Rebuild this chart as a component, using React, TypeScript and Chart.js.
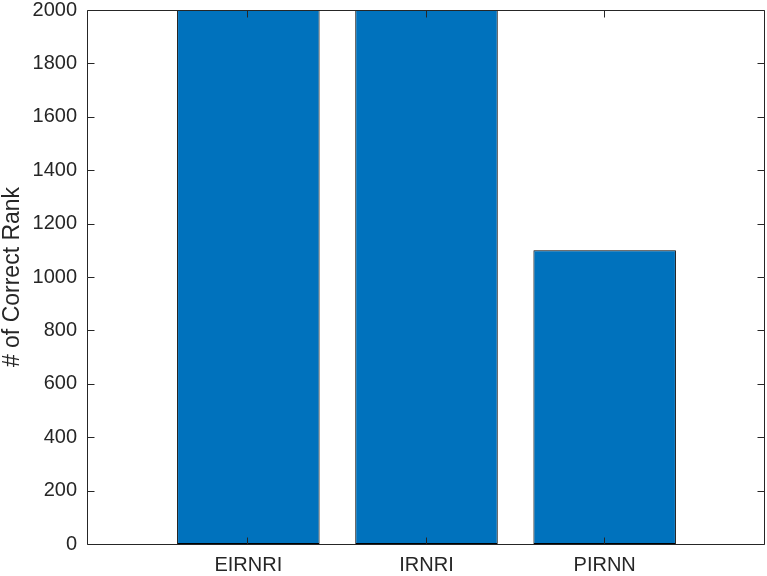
import React, { useEffect, useRef } from 'react';
import { Chart, registerables } from 'chart.js';

Chart.register(...registerables);

const categories = ['EIRNRI', 'IRNRI', 'PIRNN'];
const values = [2000, 2000, 1100];
const yTickValues = [0, 200, 400, 600, 800, 1000, 1200, 1400, 1600, 1800, 2000];
const yTitle = '# of Correct Rank';

const FONT = "'Liberation Sans', Arial, Helvetica, sans-serif";
const TEXT = '#262626';

const boxPlugin = {
  id: 'matlabBox',
  afterDatasetsDraw(chart: any) {
    const { ctx, chartArea: a, scales } = chart;
    const L = a.left - 0.5;
    const R = a.right - 0.5;
    const T = a.top + 0.5;
    const B = a.bottom + 0.5;
    const tl = 7;
    ctx.save();
    ctx.strokeStyle = TEXT;
    ctx.lineWidth = 1;
    ctx.beginPath();
    ctx.rect(L, T, R - L, B - T);
    yTickValues.forEach((v) => {
      const y = Math.round(scales.y.getPixelForValue(v)) + 0.5;
      ctx.moveTo(L, y);
      ctx.lineTo(L + tl, y);
      ctx.moveTo(R, y);
      ctx.lineTo(R - tl, y);
    });
    categories.forEach((_, i) => {
      const x = Math.round(scales.x.getPixelForValue(i + 1)) - 0.5;
      ctx.moveTo(x, B);
      ctx.lineTo(x, B - tl);
      ctx.moveTo(x, T);
      ctx.lineTo(x, T + tl);
    });
    ctx.stroke();
    ctx.restore();
  },
};

export default function App() {
  const ref = useRef<HTMLCanvasElement>(null);

  useEffect(() => {
    document.body.style.margin = '0';
    if (!ref.current) return;
    const chart = new Chart(ref.current, {
      type: 'bar',
      data: {
        datasets: [
          {
            data: values.map((v, i) => ({ x: i + 1, y: v })),
            backgroundColor: '#0072BD',
            borderColor: '#000000',
            borderWidth: 1,
            borderSkipped: false,
            barPercentage: 0.8,
            categoryPercentage: 1.0,
          },
        ],
      },
      options: {
        responsive: false,
        animation: false,
        layout: { padding: { top: 10, right: 2, left: 0, bottom: 0 } },
        plugins: { legend: { display: false }, tooltip: { enabled: false } },
        scales: {
          x: {
            type: 'linear',
            offset: false,
            min: 0.1,
            max: 3.9,
            grid: { display: false, drawTicks: false },
            border: { display: false },
            afterBuildTicks: (scale: any) => {
              scale.ticks = categories.map((_, i) => ({ value: i + 1 }));
            },
            afterFit: (scale: any) => {
              scale.height = 32;
              scale.paddingLeft = 0;
              scale.paddingRight = 0;
            },
            ticks: {
              callback: (v: any) => categories[Number(v) - 1] ?? '',
              font: { family: FONT, size: 20 },
              color: TEXT,
              padding: 9,
              maxRotation: 0,
              autoSkip: false,
            },
          },
          y: {
            type: 'linear',
            min: 0,
            max: 2000,
            grid: { display: false, drawTicks: false },
            border: { display: false },
            afterBuildTicks: (scale: any) => {
              scale.ticks = yTickValues.map((v) => ({ value: v }));
            },
            afterFit: (scale: any) => {
              scale.width = 88;
              scale.paddingTop = 0;
              scale.paddingBottom = 0;
            },
            ticks: {
              callback: (v: any) => String(v),
              font: { family: FONT, size: 20 },
              color: TEXT,
              padding: 11,
            },
            title: {
              display: true,
              text: yTitle,
              color: TEXT,
              font: { family: FONT, size: 23, lineHeight: 1.1 },
              padding: 0,
            },
          },
        },
      },
      plugins: [boxPlugin],
    } as any);
    return () => chart.destroy();
  }, []);

  return (
    <canvas
      ref={ref}
      width={767}
      height={576}
      style={{ position: 'absolute', left: 0, top: 0, width: 767, height: 576 }}
    />
  );
}
